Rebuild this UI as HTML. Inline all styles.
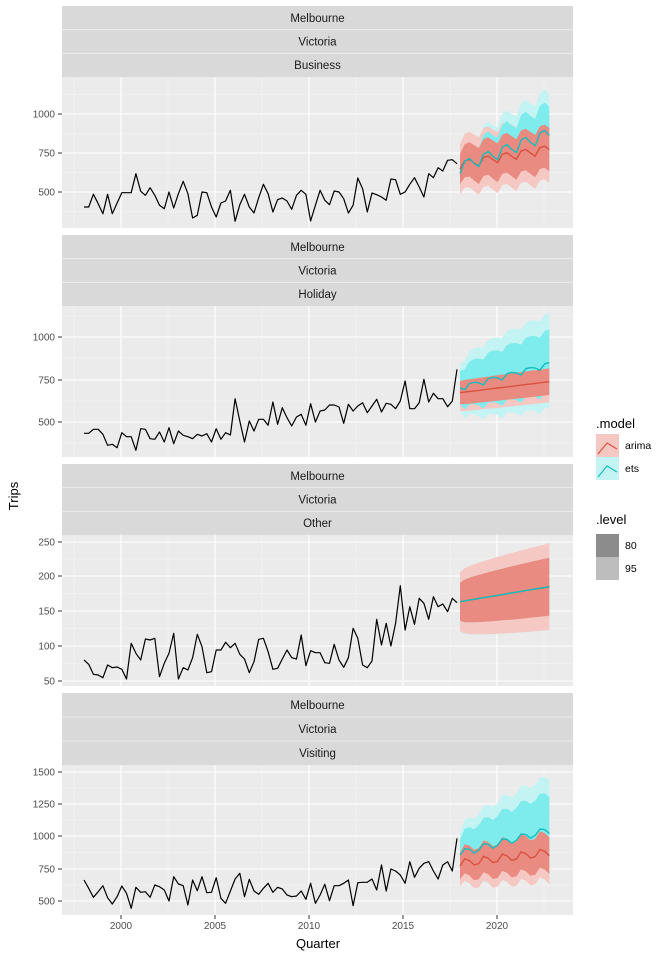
<!DOCTYPE html>
<html><head><meta charset="utf-8"><style>
body{margin:0;background:#fff;}
svg text{font-family:"Liberation Sans",sans-serif;}
</style></head><body>
<svg id="s" width="672" height="960" xmlns="http://www.w3.org/2000/svg"></svg>
<script>
const S=document.getElementById('s');let h='';
const X0=62,X1=573;
const xYear=y=>121+(y-2000)*18.8;
const panels=[
 {st:6,top:77,bot:228,name:'Business',ticks:[[500,192],[750,153],[1000,114]],minor:[211.5,172.5,133.5,94.5],
  hist:[390,390,352,380,410,352,410,378,347,347,347,290,343,355,332,355,385,395,345,393,350,313,350,423,415,345,347,390,420,378,372,340,433,383,352,390,408,362,322,350,405,368,363,372,397,355,340,352,432,385,340,370,383,342,345,365,408,385,303,335,405,348,353,360,370,306,308,352,345,322,302,330,360,290,302,272,282,250,248,260],
  ets:{m:[270,170],s:[20,-12,-15,5],u80:[30,85],u95:[45,125],l80:[30,60],l95:[50,90]},
  ar:{m:[262,215],s:[15,-8,-10,3],w80:[45,65],w95:[75,100]}},
 {st:235,top:306,bot:457,name:'Holiday',ticks:[[500,422],[750,380],[1000,337]],minor:[443,401,358,316],
  hist:[382,382,370,370,385,418,415,425,380,392,392,433,368,370,398,400,378,408,365,413,375,388,392,398,385,390,383,408,368,400,380,387,278,345,408,345,375,340,340,358,288,355,305,335,360,333,325,358,293,348,315,312,297,297,303,352,295,315,300,290,320,300,280,318,292,295,308,285,225,308,308,290,220,288,262,278,278,302,285,190],
  ets:{m:[245,175],s:[0,10,-5,-5],u80:[50,100],u95:[70,150],l80:[50,90],l95:[70,135]},
  ar:{m:[260,227],s:[0,0,0,0],w80:[35,40],w95:[55,62]}},
 {st:464,top:535,bot:686,name:'Other',ticks:[[50,681],[100,646],[150,611],[200,576],[250,542]],minor:[663.5,628.5,593.5,559],
  hist:[375,388,418,420,428,390,398,396,403,432,325,355,375,312,315,310,425,385,355,295,432,398,405,368,298,335,413,410,345,345,322,338,325,358,372,413,380,313,310,350,403,400,372,345,368,372,300,392,347,353,353,383,385,328,375,397,368,280,310,390,398,378,253,330,265,333,265,152,285,215,268,190,205,253,185,215,207,230,190,203],
  ets:{m:[200,155],s:[0,0,0,0],u80:[57,87],u95:[85,130],l80:[58,85],l95:[90,130]},
  ar:{m:[200,155],s:[0,0,0,0],w80:[57,87],w95:[88,130]}},
 {st:693,top:765,bot:915,name:'Visiting',ticks:[[500,901],[750,869],[1000,836],[1250,804],[1500,772]],minor:[885,852.5,820,788],
  hist:[345,370,397,380,362,398,417,395,363,385,430,367,382,380,397,360,365,375,408,335,357,362,420,345,377,335,383,382,338,400,415,378,342,325,395,343,378,388,370,355,382,367,372,390,395,393,378,403,355,415,390,358,407,362,362,355,345,422,353,352,352,342,375,300,378,312,318,330,355,290,337,310,295,290,318,342,300,290,318,220],
  ets:{m:[265,195],s:[5,-10,-5,10],u80:[45,110],u95:[65,160],l80:[60,100],l95:[85,140]},
  ar:{m:[295,262],s:[8,-12,-5,10],w80:[40,55],w95:[60,85]}}
];
function f(v){return v.toFixed(1);}
panels.forEach(p=>{
 h+=`<rect x="${X0}" y="${p.st}" width="${X1-X0}" height="${p.top-p.st}" fill="#d9d9d9"/>`;
 const sh=(p.top-p.st)/3;
 ['Melbourne','Victoria',p.name].forEach((t,i)=>{
  if(i>0)h+=`<line x1="${X0}" x2="${X1}" y1="${p.st+sh*i}" y2="${p.st+sh*i}" stroke="#ececec" stroke-width="1"/>`;
  h+=`<text x="${(X0+X1)/2}" y="${p.st+sh*i+sh/2+4}" font-size="11.5" fill="#1a1a1a" text-anchor="middle">${t}</text>`;
 });
 h+=`<rect x="${X0}" y="${p.top}" width="${X1-X0}" height="${p.bot-p.top}" fill="#ebebeb"/>`;
 p.minor.forEach(y=>{if(y>p.top&&y<p.bot)h+=`<line x1="${X0}" x2="${X1}" y1="${y}" y2="${y}" stroke="#f5f5f5" stroke-width="0.6"/>`;});
 [1997.5,2002.5,2007.5,2012.5,2017.5,2022.5].forEach(y=>{h+=`<line x1="${xYear(y)}" x2="${xYear(y)}" y1="${p.top}" y2="${p.bot}" stroke="#f5f5f5" stroke-width="0.6"/>`;});
 p.ticks.forEach(([v,y])=>{h+=`<line x1="${X0}" x2="${X1}" y1="${y}" y2="${y}" stroke="#fff" stroke-width="1.1"/>`;
  h+=`<line x1="58" x2="62" y1="${y}" y2="${y}" stroke="#333" stroke-width="1"/>`;
  h+=`<text x="55" y="${y+3.5}" font-size="10" fill="#4d4d4d" text-anchor="end">${v}</text>`;});
 [2000,2005,2010,2015,2020].forEach(y=>{h+=`<line x1="${xYear(y)}" x2="${xYear(y)}" y1="${p.top}" y2="${p.bot}" stroke="#fff" stroke-width="1.1"/>`;});
 const Z=z=>p.top+z/3;
 const xs=t=>84+(t+80)*4.7;
 const n=20;
 function band(m,s,wu,wl,t){const fr=Math.sqrt(t/19),base=m[0]+(m[1]-m[0])*t/19+s[t%4];return[Z(base-(wu[0]+(wu[1]-wu[0])*fr)),Z(base+(wl[0]+(wl[1]-wl[0])*fr)),Z(base)];}
 function poly(fn,col){let up=[],lo=[];for(let t=0;t<n;t++){const b=fn(t);up.push(f(xs(t))+','+f(b[0]));lo.push(f(xs(t))+','+f(b[1]));}
  h+=`<polygon points="${up.join(' ')} ${lo.reverse().join(' ')}" fill="${col}"/>`;}
 const E=p.ets,A=p.ar;
 poly(t=>band(E.m,E.s,E.u95,E.l95,t),'#c3f3f3');
 poly(t=>band(A.m,A.s,A.w95,A.w95,t),'#f5c8c3');
 poly(t=>band(E.m,E.s,E.u80,E.l80,t),'#7eecec');
 poly(t=>band(A.m,A.s,A.w80,A.w80,t),'#e98b80');
 let la=[],le=[];
 for(let t=0;t<n;t++){la.push(f(xs(t))+','+f(band(A.m,A.s,[0,0],[0,0],t)[2]));le.push(f(xs(t))+','+f(band(E.m,E.s,[0,0],[0,0],t)[2]));}
 h+=`<polyline points="${la.join(' ')}" fill="none" stroke="#d9523f" stroke-width="1.4"/>`;
 h+=`<polyline points="${le.join(' ')}" fill="none" stroke="#13bdbd" stroke-width="1.4"/>`;
 const n2=p.hist.length;
 h+=`<polyline points="${p.hist.map((z,i)=>f(84+i*(457-84)/(n2-1))+','+f(Z(z))).join(' ')}" fill="none" stroke="#000" stroke-width="1.2" stroke-linejoin="round"/>`;
});
[2000,2005,2010,2015,2020].forEach(y=>{h+=`<line x1="${xYear(y)}" x2="${xYear(y)}" y1="915" y2="919" stroke="#333"/>`;
 h+=`<text x="${xYear(y)}" y="929" font-size="10" fill="#4d4d4d" text-anchor="middle">${y}</text>`;});
h+=`<text x="318" y="948" font-size="13" fill="#000" text-anchor="middle">Quarter</text>`;
h+=`<text x="18" y="496" font-size="13" fill="#000" text-anchor="middle" transform="rotate(-90 18 496)">Trips</text>`;
h+=`<text x="596" y="428" font-size="13">.model</text>`;
h+=`<rect x="596" y="434" width="23" height="23" fill="#f4c7c2"/><polyline points="598,454 607,443 617,449" fill="none" stroke="#d9523f" stroke-width="1.2"/>`;
h+=`<rect x="596" y="457" width="23" height="23" fill="#c3f3f3"/><polyline points="598,477 607,466 617,472" fill="none" stroke="#13bdbd" stroke-width="1.2"/>`;
h+=`<text x="625" y="449" font-size="10.5">arima</text><text x="625" y="472" font-size="10.5">ets</text>`;
h+=`<text x="596" y="524" font-size="13">.level</text>`;
h+=`<rect x="596" y="534" width="23" height="23" fill="#8c8c8c"/><rect x="596" y="557" width="23" height="23" fill="#bdbdbd"/>`;
h+=`<text x="625" y="549" font-size="10.5">80</text><text x="625" y="572" font-size="10.5">95</text>`;
S.innerHTML=h;
</script>
</body></html>
